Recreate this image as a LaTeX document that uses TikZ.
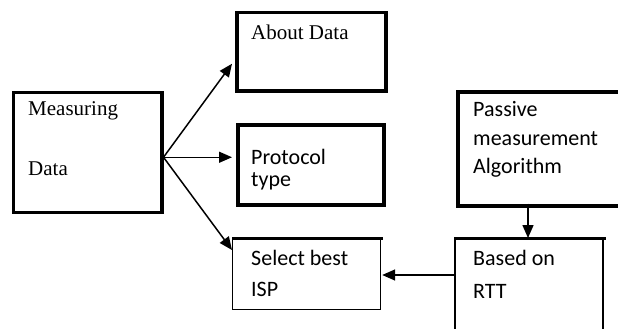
\documentclass[tikz,border=0pt]{standalone}
\usepackage{fontspec}
\setmainfont{Liberation Serif}
\newfontfamily\calfont{Carlito}
\usetikzlibrary{arrows.meta}
\begin{document}
\begin{tikzpicture}[x=1pt,y=-1pt,
  thickbox/.style={draw,line width=3.5pt,inner sep=0pt},
  thinbox/.style={draw,line width=1.2pt,inner sep=0pt},
  serif/.style={font=\fontsize{21}{25}\selectfont,inner sep=0pt,anchor=base west},
  cal/.style={font=\calfont\fontsize{22}{26}\selectfont,inner sep=0pt,anchor=base west},
  arr/.style={line width=1.5pt,-{Triangle[length=13pt,width=11pt]}}]
\useasboundingbox (0,0) rectangle (618,329);
\begin{scope}
\clip (0,0) rectangle (618,329);
% boxes
\node[thickbox,minimum width=148.5pt,minimum height=120pt,anchor=north west] (meas) at (11.5,90.5) {};
\node[thickbox,minimum width=149pt,minimum height=78pt,anchor=north west] (about) at (235,11) {};
\node[thickbox,minimum width=146pt,minimum height=80pt,anchor=north west] (proto) at (236,123) {};
\node[thinbox,minimum width=148pt,minimum height=71pt,anchor=north west] (sel) at (232,238) {};
\draw[line width=3pt] (sel.north west) -- ([xshift=2pt]sel.north east);
\node[thickbox,minimum width=180pt,minimum height=114pt,anchor=north west] (pass) at (456,90) {};
\node[draw,line width=1.8pt,inner sep=0pt,minimum width=148pt,minimum height=110pt,anchor=north west] (rtt) at (454,238) {};
\draw[line width=3pt] (rtt.north west) -- ([xshift=2pt]rtt.north east);
\end{scope}
% texts
\node[serif] (t1) at (28,115) {Measuring};
\node[serif] (t2) at (28,175) {Data};
\node[serif] (t3) at (251,40) {About Data};
\node[cal] (t4) at (251,164) {Protocol};
\node[cal] (t5) at (251,186) {type};
\node[cal] (t6) at (251,265) {Select best};
\node[cal] (t7) at (251,296) {ISP};
\node[cal] (t8) at (473,116) {Passive};
\node[cal] (t9) at (473,145) {measurement};
\node[cal] (t10) at (473,173) {Algorithm};
\node[cal] (t11) at (473,265) {Based on};
\node[cal] (t12) at (473,298) {RTT};
% connectors
\coordinate (src) at ([yshift=-5pt]meas.east);
\draw[arr] (src) -- ([yshift=-12pt,xshift=-3pt]about.west);
\draw[arr] (src) -- ([xshift=-4pt]proto.west |- src);
\draw[arr] (src) -- ([yshift=-12pt]sel.north west);
\draw[arr] ([xshift=72pt,yshift=4pt]pass.south west) -- ([xshift=74pt]rtt.north west);
\draw[arr] ([yshift=-37pt]rtt.north west) -- ([yshift=-37pt,xshift=1pt]sel.north east);
\end{tikzpicture}
\end{document}
